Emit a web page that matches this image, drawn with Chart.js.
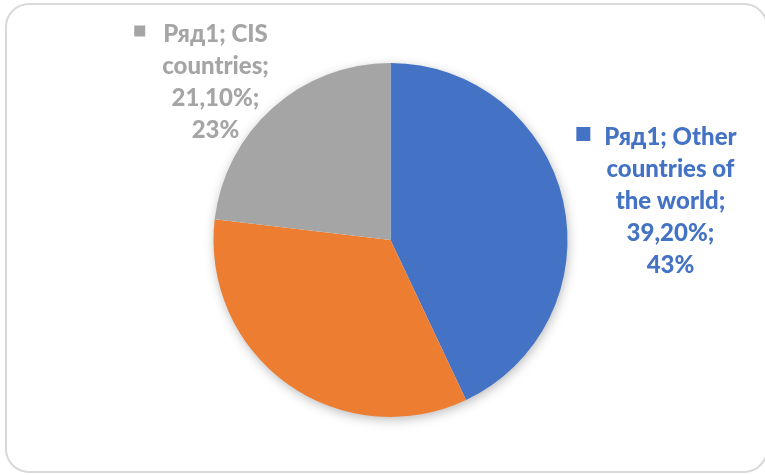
<!DOCTYPE html>
<html>
<head>
<meta charset="utf-8">
<script src="https://cdn.jsdelivr.net/npm/chart.js@4/dist/chart.umd.min.js"></script>
<style>
  html, body { margin: 0; padding: 0; background: #fff; overflow: hidden; }
  #frame { position: absolute; left: 5px; top: 3px; width: 763px; height: 470px; box-sizing: border-box; border: 2px solid #d9d9d9; border-radius: 24px; }
  #wrap { position: absolute; left: 0; top: 0; width: 765px; height: 475px; }
</style>
</head>
<body>
<div id="frame"></div>
<div id="wrap"><canvas id="pie" width="765" height="475"></canvas></div>
<script>
const seriesName = 'Ряд1';
const categories = ['Other countries of the world', 'Russia', 'CIS countries'];
const values = [39.2, 30.9, 21.1];
const colors = ['#4472c4', '#ed7d31', '#a5a5a5'];

// break label text into lines no wider than maxW
function wrap(ctx, text, maxW) {
  const words = text.split(' ');
  const lines = [];
  let cur = '';
  words.forEach(w => {
    const test = cur ? cur + ' ' + w : w;
    if (cur && ctx.measureText(test).width > maxW) {
      lines.push(cur);
      cur = w;
    } else {
      cur = test;
    }
  });
  if (cur) lines.push(cur);
  return lines;
}

const pieShadow = {
  id: 'pieShadow',
  beforeDatasetsDraw(chart) {
    const arc = chart.getDatasetMeta(0).data[0];
    const ctx = chart.ctx;
    ctx.save();
    ctx.shadowColor = 'rgba(0,0,0,0.3)';
    ctx.shadowBlur = 12;
    ctx.shadowOffsetX = 1;
    ctx.shadowOffsetY = 3;
    ctx.fillStyle = '#fff';
    ctx.beginPath();
    ctx.arc(arc.x, arc.y, arc.outerRadius - 1, 0, Math.PI * 2);
    ctx.fill();
    ctx.restore();
  }
};

const dataLabels = {
  id: 'dataLabels',
  afterDatasetsDraw(chart, args, opts) {
    const ctx = chart.ctx;
    const meta = chart.getDatasetMeta(0);
    const total = values.reduce((a, b) => a + b, 0);
    ctx.save();
    ctx.font = opts.font;
    ctx.textAlign = 'center';
    ctx.textBaseline = 'middle';
    opts.items.forEach(it => {
      const arc = meta.data[it.index];
      const v = values[it.index];
      const pct = Math.round(v / total * 100);
      const text = `${seriesName}; ${categories[it.index]}; ${v.toFixed(2).replace('.', ',')}%; ${pct}%`;
      const lines = wrap(ctx, text, it.width);
      const cx = arc.x + it.dx;
      const y = arc.y + it.dy;
      ctx.fillStyle = colors[it.index];
      lines.forEach((ln, i) => ctx.fillText(ln, cx, y + i * opts.lineHeight));
      const w0 = ctx.measureText(lines[0]).width;
      ctx.fillRect(cx - w0 / 2 - it.gap - it.box, y - 3 - it.box / 2, it.box, it.box);
    });
    ctx.restore();
  }
};

new Chart(document.getElementById('pie'), {
  type: 'pie',
  data: {
    labels: categories,
    datasets: [{
      label: seriesName,
      data: values,
      backgroundColor: colors,
      borderWidth: 0
    }]
  },
  options: {
    responsive: false,
    animation: false,
    layout: { padding: { top: 63, bottom: 58, left: 16, right: 0 } },
    plugins: {
      legend: { display: false },
      tooltip: { enabled: false },
      dataLabels: {
        font: '900 24px Lato',
        lineHeight: 32,
        items: [
          { index: 0, dx: 280, dy: -103, width: 134, box: 14, gap: 14 },
          { index: 2, dx: -175, dy: -206, width: 116, box: 11, gap: 18 }
        ]
      }
    }
  },
  plugins: [pieShadow, dataLabels]
});
</script>
</body>
</html>
